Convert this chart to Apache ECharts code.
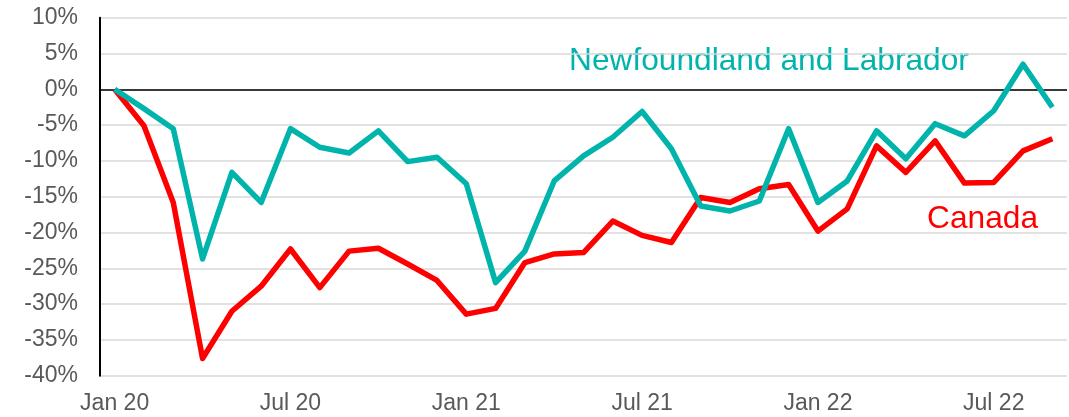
<!DOCTYPE html>
<html>
<head>
<meta charset="utf-8">
<script src="https://cdn.jsdelivr.net/npm/echarts@6/dist/echarts.min.js"></script>
<style>
  html, body { margin: 0; padding: 0; background: #fff; }
  #chart { width: 1069px; height: 417px; }
</style>
</head>
<body>
<div id="chart"></div>
<script>
/* ===== data ===== */
const months = [
  "Jan 20", "Feb 20", "Mar 20", "Apr 20", "May 20", "Jun 20",
  "Jul 20", "Aug 20", "Sep 20", "Oct 20", "Nov 20", "Dec 20",
  "Jan 21", "Feb 21", "Mar 21", "Apr 21", "May 21", "Jun 21",
  "Jul 21", "Aug 21", "Sep 21", "Oct 21", "Nov 21", "Dec 21",
  "Jan 22", "Feb 22", "Mar 22", "Apr 22", "May 22", "Jun 22",
  "Jul 22", "Aug 22", "Sep 22",
];

// Newfoundland and Labrador (% change vs Jan 20)
const nlValues = [
  0, -2.7, -5.5, -23.7, -11.6, -15.8,
  -5.5, -8.1, -8.9, -5.8, -10.1, -9.5,
  -13.2, -27.0, -22.6, -12.8, -9.3, -6.7,
  -3.1, -8.3, -16.3, -17.0, -15.6, -5.5,
  -15.8, -12.8, -5.8, -9.7, -4.8, -6.5,
  -3.0, 3.5, -2.5,
];

// Canada
const caValues = [
  0, -5.1, -15.8, -37.6, -31.0, -27.5,
  -22.3, -27.7, -22.6, -22.2, -24.4, -26.7,
  -31.4, -30.6, -24.2, -23.0, -22.8, -18.4,
  -20.4, -21.4, -15.1, -15.8, -13.9, -13.3,
  -19.8, -16.7, -7.9, -11.6, -7.2, -13.1,
  -13.0, -8.6, -6.9,
];

const yTicks = { min: -40, max: 10, step: 5 };

/* ===== colours ===== */
const TEAL = "#00B4AC";
const RED = "#FF0000";
const LABEL = "#595959";
const FONT = "Liberation Sans, Arial, sans-serif";

const chart = echarts.init(document.getElementById("chart"), null, { renderer: "canvas" });

chart.setOption({
  animation: false,
  backgroundColor: "#fff",
  grid: { left: 100, right: 2, top: 17.7, bottom: 41.3, containLabel: false },

  xAxis: {
    type: "category",
    data: months,
    boundaryGap: true,
    axisLine: { show: false },
    axisTick: { show: false },
    axisLabel: {
      interval: 5,
      margin: 16,
      color: LABEL,
      fontFamily: FONT,
      fontSize: 23,
    },
    splitLine: { show: false },
  },

  yAxis: {
    type: "value",
    min: yTicks.min,
    max: yTicks.max,
    interval: yTicks.step,
    axisLine: { show: true, lineStyle: { color: "#000", width: 2 } },
    axisTick: { show: false },
    axisLabel: {
      margin: 22,
      color: LABEL,
      fontFamily: FONT,
      fontSize: 23,
      formatter: (v) => v + "%",
    },
    splitLine: { show: true, lineStyle: { color: "#D9D9D9", width: 1.5 } },
  },

  series: [
    {
      name: "Canada",
      type: "line",
      data: caValues,
      symbol: "none",
      lineStyle: { color: RED, width: 5.5, join: "round" },
      z: 3,
      // zero line
      markLine: {
        silent: true,
        symbol: "none",
        label: { show: false },
        lineStyle: { color: "#000", width: 1.5, type: "solid" },
        data: [{ yAxis: 0 }],
        z: 1,
      },
    },
    {
      name: "Newfoundland and Labrador",
      type: "line",
      data: nlValues,
      symbol: "none",
      lineStyle: { color: TEAL, width: 5.5, join: "round" },
      z: 4,
    },
  ],

  /* ===== series labels ===== */
  graphic: [
    {
      type: "text",
      left: 569,
      top: 45,
      style: {
        text: "Newfoundland and Labrador",
        fontSize: 31.7,
        fontFamily: FONT,
        fill: TEAL,
      },
    },
    {
      type: "text",
      left: 927,
      top: 203,
      style: {
        text: "Canada",
        fontSize: 31.7,
        fontFamily: FONT,
        fill: RED,
      },
    },
  ],
});
</script>
</body>
</html>
